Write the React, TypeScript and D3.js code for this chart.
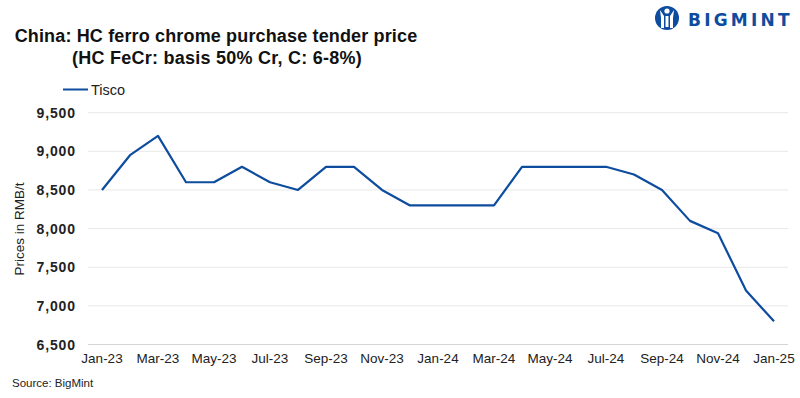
import * as d3 from "d3";

const months = [
  "Jan-23", "Feb-23", "Mar-23", "Apr-23", "May-23", "Jun-23", "Jul-23", "Aug-23",
  "Sep-23", "Oct-23", "Nov-23", "Dec-23", "Jan-24", "Feb-24", "Mar-24", "Apr-24",
  "May-24", "Jun-24", "Jul-24", "Aug-24", "Sep-24", "Oct-24", "Nov-24", "Dec-24", "Jan-25",
];
const tisco = [
  8500, 8950, 9200, 8600, 8600, 8800, 8600, 8500, 8800, 8800, 8500, 8300, 8300,
  8300, 8300, 8800, 8800, 8800, 8800, 8700, 8500, 8100, 7940, 7200, 6800,
];
const yTicks = [6500, 7000, 7500, 8000, 8500, 9000, 9500];

const W = 800;
const H = 398;
const blue = "#0d4c9e";

export default function App() {
  const x = d3.scaleBand().domain(months).range([88, 788]);
  const y = d3.scaleLinear().domain([6500, 9500]).range([344.5, 112.7]);
  const fmt = d3.format(",");
  const line = d3
    .line<number>()
    .x((_, i) => (x(months[i]) as number) + x.bandwidth() / 2)
    .y((d) => y(d));

  return (
    <svg
      width={W}
      height={H}
      style={{ position: "absolute", left: 0, top: 0, background: "#fff" }}
      fontFamily="'Liberation Sans', Arial, sans-serif"
    >
      {/* logo */}
      <g fill={blue}>
        <circle cx={667} cy={18} r={12} />
        <circle cx={667} cy={11} r={2.6} fill="#fff" />
        <path d="M660 10 L664 16 L664 28 L661 28 L661 18 Z" fill="#fff" />
        <path d="M674 10 L670 16 L670 28 L673 28 L673 18 Z" fill="#fff" />
        <path d="M665.5 16 L668.5 16 L668.5 27 L665.5 27 Z" fill="#fff" />
        <text x={688} y={26} fontSize={17} fontWeight="bold" letterSpacing={3.2} fontFamily="'DejaVu Sans', sans-serif">
          BIGMINT
        </text>
      </g>

      {/* title */}
      <text x={216} y={42} fontSize={18} fontWeight="bold" textAnchor="middle" fill="#111" letterSpacing={0.15}>
        China: HC ferro chrome purchase tender price
      </text>
      <text x={217} y={64} fontSize={18} fontWeight="bold" textAnchor="middle" fill="#111" letterSpacing={0.25}>
        (HC FeCr: basis 50% Cr, C: 6-8%)
      </text>

      {/* legend */}
      <line x1={63} x2={88} y1={89.5} y2={89.5} stroke={blue} strokeWidth={2} />
      <text x={91} y={95} fontSize={14.5} fill="#222">Tisco</text>

      {/* grid + y ticks */}
      {yTicks.map((t) => (
        <g key={t}>
          <line
            x1={88}
            x2={788}
            y1={y(t)}
            y2={y(t)}
            stroke={t === 6500 ? "#d4d4d4" : "#e8e8e8"}
            strokeWidth={1}
          />
          <text x={76} y={y(t) + 5} fontSize={14} fontWeight="bold" textAnchor="end" fill="#222" letterSpacing={0.9}>
            {fmt(t)}
          </text>
        </g>
      ))}

      {/* x labels every 2 months */}
      {months.map((m, i) =>
        i % 2 === 0 ? (
          <text
            key={m}
            x={(x(m) as number) + x.bandwidth() / 2}
            y={363}
            fontSize={13.5}
            textAnchor="middle"
            fill="#222"
          >
            {m}
          </text>
        ) : null
      )}

      {/* y axis title */}
      <text
        transform="translate(24,229) rotate(-90)"
        fontSize={13.5}
        textAnchor="middle"
        fill="#222"
      >
        Prices in RMB/t
      </text>

      {/* series */}
      <path d={line(tisco) ?? ""} fill="none" stroke={blue} strokeWidth={2.2} strokeLinejoin="round" />

      <text x={12} y={387} fontSize={11.5} fill="#222">Source: BigMint</text>
    </svg>
  );
}
